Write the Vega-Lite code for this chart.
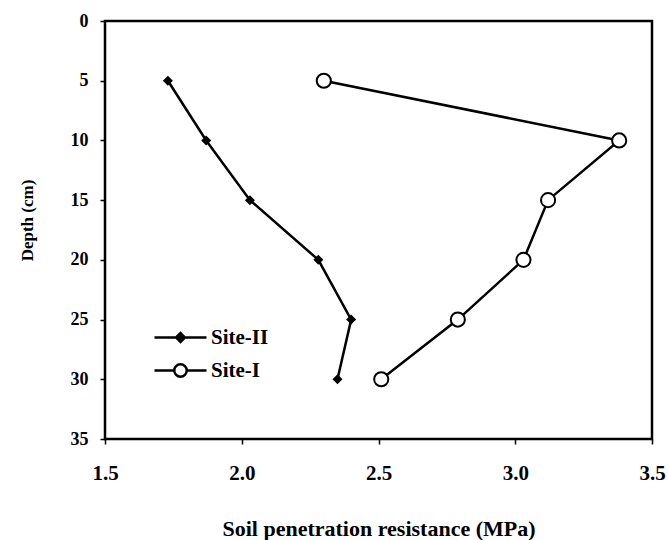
{
  "$schema": "https://vega.github.io/schema/vega-lite/v6.json",
  "width": 547,
  "height": 418,
  "autosize": {"type": "none"},
  "padding": {"left": 105, "top": 21, "right": 16, "bottom": 101},
  "background": "white",
  "config": {
    "view": {"stroke": "black", "strokeWidth": 2.5},
    "font": "Liberation Serif"
  },
  "data": {
    "values": [
      {"series": "Site-II", "depth": 5, "resistance": 1.73},
      {"series": "Site-II", "depth": 10, "resistance": 1.87},
      {"series": "Site-II", "depth": 15, "resistance": 2.03},
      {"series": "Site-II", "depth": 20, "resistance": 2.28},
      {"series": "Site-II", "depth": 25, "resistance": 2.40},
      {"series": "Site-II", "depth": 30, "resistance": 2.35},
      {"series": "Site-I", "depth": 5, "resistance": 2.30},
      {"series": "Site-I", "depth": 10, "resistance": 3.38},
      {"series": "Site-I", "depth": 15, "resistance": 3.12},
      {"series": "Site-I", "depth": 20, "resistance": 3.03},
      {"series": "Site-I", "depth": 25, "resistance": 2.79},
      {"series": "Site-I", "depth": 30, "resistance": 2.51}
    ]
  },
  "encoding": {
    "x": {
      "field": "resistance",
      "type": "quantitative",
      "scale": {"domain": [1.5, 3.5], "nice": false, "zero": false},
      "axis": {
        "title": "Soil penetration resistance (MPa)",
        "values": [1.5, 2, 2.5, 3, 3.5],
        "format": ".1f",
        "grid": false,
        "domain": false,
        "labelFlush": false,
        "tickColor": "black",
        "tickSize": 5,
        "tickWidth": 1.5,
        "labelColor": "black",
        "labelFont": "Liberation Serif",
        "labelFontSize": 21,
        "labelFontWeight": "bold",
        "labelPadding": 18,
        "titleColor": "black",
        "titleFont": "Liberation Serif",
        "titleFontSize": 22,
        "titleFontWeight": "bold",
        "titleY": 89,
        "titleBaseline": "middle"
      }
    },
    "y": {
      "field": "depth",
      "type": "quantitative",
      "scale": {"domain": [0, 35], "reverse": true, "nice": false},
      "axis": {
        "title": "Depth (cm)",
        "values": [0, 5, 10, 15, 20, 25, 30, 35],
        "grid": false,
        "domain": false,
        "labelFlush": false,
        "tickColor": "black",
        "tickSize": 5,
        "tickWidth": 1.5,
        "labelColor": "black",
        "labelFont": "Liberation Serif",
        "labelFontSize": 18,
        "labelFontWeight": "bold",
        "labelPadding": 12,
        "titleColor": "black",
        "titleFont": "Liberation Serif",
        "titleFontSize": 17,
        "titleFontWeight": "bold",
        "titleX": -78,
        "titleY": 199,
        "titleBaseline": "middle"
      }
    }
  },
  "layer": [
    {
      "mark": {"type": "line", "strokeWidth": 2.5},
      "encoding": {
        "order": {"field": "depth", "type": "quantitative"},
        "color": {
          "field": "series",
          "type": "nominal",
          "scale": {"domain": ["Site-II", "Site-I"], "range": ["black", "black"]},
          "legend": {
            "title": null,
            "orient": "none",
            "legendX": 61,
            "legendY": 302,
            "padding": 0,
            "symbolSize": 676,
            "symbolStrokeWidth": 2.5,
            "symbolStrokeColor": "black",
            "labelOffset": 16,
            "rowPadding": 8,
            "labelFont": "Liberation Serif",
            "labelFontSize": 21,
            "labelFontWeight": "bold",
            "labelColor": "black",
            "encode": {
              "symbols": {
                "update": {
                  "shape": {"signal": "datum.value === 'Site-II' ? 'M-2,0H2M-0.34,0L0,-0.34L0.34,0L0,0.34Z' : 'M-2,0H-0.48M0.48,0H2M-0.48,0A0.48,0.48,0,1,1,0.48,0A0.48,0.48,0,1,1,-0.48,0Z'"},
                  "fill": {"signal": "datum.value === 'Site-II' ? 'black' : 'white'"},
                  "stroke": {"value": "black"},
                  "strokeWidth": {"value": 2.5},
                  "opacity": {"value": 1}
                }
              }
            }
          }
        }
      }
    },
    {
      "transform": [{"filter": "datum.series === 'Site-II'"}],
      "mark": {"type": "point", "shape": "diamond", "filled": true, "color": "black", "size": 100, "opacity": 1}
    },
    {
      "transform": [{"filter": "datum.series === 'Site-I'"}],
      "mark": {"type": "point", "shape": "circle", "filled": true, "fill": "white", "stroke": "black", "strokeWidth": 2, "size": 200, "opacity": 1}
    }
  ]
}
